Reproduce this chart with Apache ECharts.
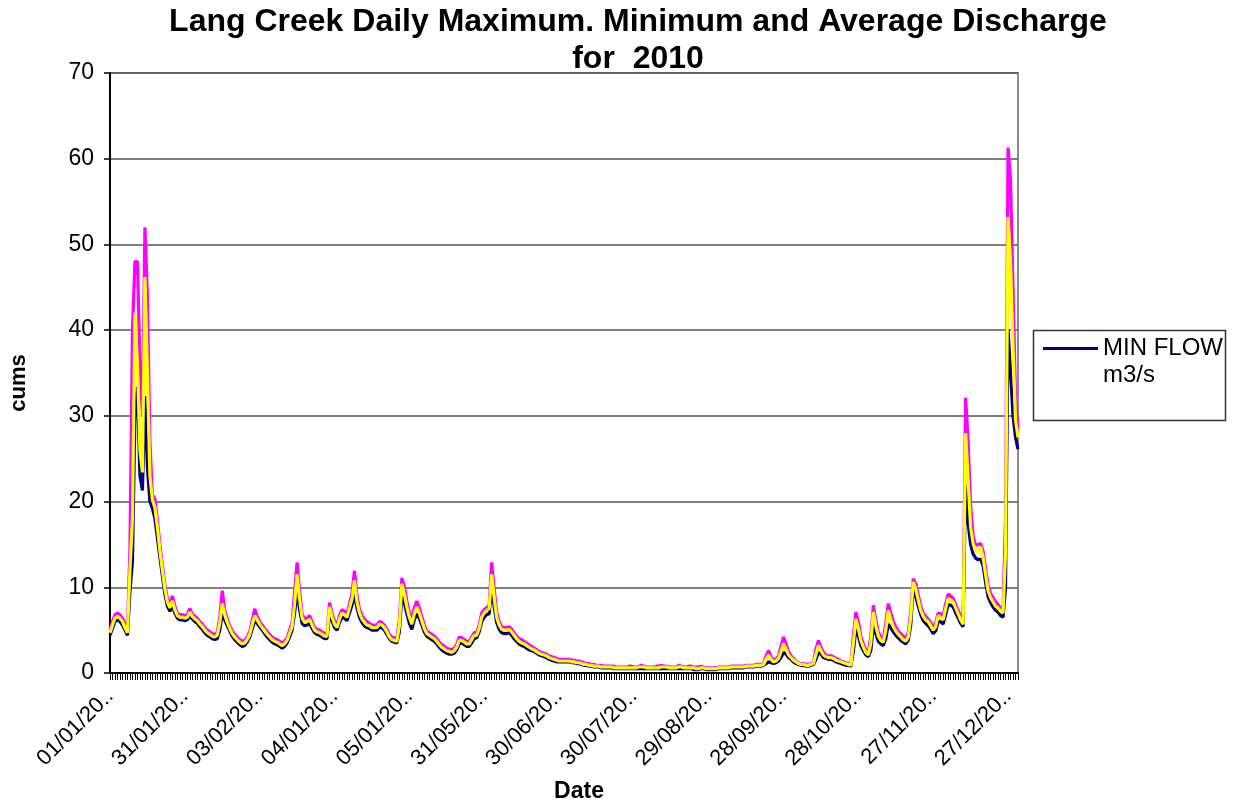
<!DOCTYPE html>
<html>
<head>
<meta charset="utf-8">
<title>Lang Creek Discharge 2010</title>
<script src="https://cdn.jsdelivr.net/npm/echarts@6/dist/echarts.min.js"></script>
<style>
  html, body { margin: 0; padding: 0; background: #fff; }
  #chart { width: 1238px; height: 808px; }
</style>
</head>
<body>
<div id="chart"></div>
<script>
// Tick labels shown every 30 days along the date axis
const tickLabels = ['01/01/20..', '31/01/20..', '03/02/20..', '04/01/20..', '05/01/20..',
  '31/05/20..', '30/06/20..', '30/07/20..', '29/08/20..', '28/09/20..', '28/10/20..',
  '27/11/20..', '27/12/20..'];

// Daily maximum discharge (m3/s), day 1..365
const maxFlow = [
  5.1, 6.0, 6.8, 7.0, 6.8, 6.4, 5.7, 5.0, 14.5, 40.0,
  48.0, 48.0, 36.0, 30.0, 52.0, 44.0, 27.0, 20.8, 20.3, 17.8,
  15.0, 12.6, 10.3, 8.7, 8.0, 9.0, 7.8, 7.0, 6.8, 6.8,
  6.7, 6.8, 7.5, 6.9, 6.6, 6.4, 6.0, 5.7, 5.3, 5.0,
  4.8, 4.6, 4.5, 4.7, 6.5, 9.6, 7.3, 6.3, 5.5, 4.9,
  4.5, 4.2, 3.9, 3.7, 3.8, 4.2, 4.8, 6.1, 7.5, 6.6,
  6.0, 5.6, 5.2, 4.8, 4.5, 4.2, 4.0, 3.9, 3.7, 3.5,
  3.7, 4.1, 5.0, 5.9, 9.5, 12.9, 9.6, 6.9, 6.3, 6.4,
  6.7, 6.0, 5.3, 5.1, 5.0, 4.8, 4.6, 4.6, 8.2, 7.0,
  6.1, 5.6, 6.7, 7.4, 7.2, 6.9, 8.1, 9.3, 11.9, 9.0,
  7.5, 6.7, 6.3, 6.0, 5.8, 5.6, 5.6, 5.6, 6.0, 5.9,
  5.6, 5.1, 4.5, 4.2, 4.1, 4.0, 6.2, 11.1, 10.1, 8.4,
  7.1, 6.2, 7.6, 8.4, 7.6, 6.6, 5.6, 4.9, 4.7, 4.5,
  4.3, 4.0, 3.6, 3.3, 3.1, 2.9, 2.8, 2.7, 2.9, 3.3,
  4.2, 4.1, 3.9, 3.7, 3.7, 4.2, 4.7, 4.7, 5.6, 7.0,
  7.4, 7.6, 7.9, 12.9, 9.8, 7.1, 6.0, 5.4, 5.3, 5.3,
  5.4, 5.1, 4.7, 4.3, 4.0, 3.9, 3.7, 3.5, 3.3, 3.1,
  2.9, 2.7, 2.5, 2.4, 2.3, 2.2, 2.0, 1.9, 1.8, 1.7,
  1.6, 1.6, 1.6, 1.6, 1.6, 1.5, 1.5, 1.4, 1.4, 1.3,
  1.2, 1.1, 1.1, 1.0, 1.0, 0.9, 0.9, 0.9, 0.8, 0.8,
  0.8, 0.8, 0.8, 0.7, 0.7, 0.7, 0.7, 0.7, 0.8, 0.8,
  0.7, 0.7, 0.8, 0.9, 0.8, 0.7, 0.7, 0.7, 0.7, 0.8,
  0.8, 0.9, 0.8, 0.8, 0.7, 0.7, 0.7, 0.7, 0.9, 0.8,
  0.7, 0.7, 0.8, 0.8, 0.7, 0.7, 0.7, 0.8, 0.7, 0.6,
  0.6, 0.6, 0.6, 0.6, 0.7, 0.7, 0.7, 0.7, 0.7, 0.8,
  0.8, 0.8, 0.8, 0.8, 0.8, 0.9, 0.9, 0.9, 0.9, 1.0,
  1.0, 1.0, 1.1, 2.0, 2.6, 1.9, 1.5, 1.6, 2.0, 3.1,
  4.2, 3.4, 2.5, 2.0, 1.7, 1.4, 1.2, 1.1, 1.1, 1.0,
  1.0, 1.1, 1.2, 2.8, 3.8, 3.0, 2.4, 2.1, 2.0, 2.0,
  1.9, 1.7, 1.6, 1.4, 1.3, 1.2, 1.1, 1.0, 4.4, 7.1,
  6.0, 4.3, 3.4, 2.7, 2.4, 4.3, 7.9, 6.2, 4.8, 4.2,
  4.0, 5.8, 8.1, 7.0, 6.0, 5.4, 4.9, 4.6, 4.3, 4.0,
  4.7, 7.2, 11.0, 10.4, 9.1, 7.8, 7.0, 6.6, 6.3, 5.9,
  5.3, 5.8, 7.0, 6.9, 6.6, 8.1, 9.2, 9.0, 8.7, 8.0,
  7.3, 6.6, 6.0, 32.1, 27.0, 19.5, 16.0, 14.9, 15.0, 15.1,
  14.2, 12.2, 10.2, 9.3, 8.8, 8.3, 8.0, 7.6, 7.4, 18.0,
  61.3, 57.5, 45.0, 32.0, 28.4
];

// Daily average discharge (m3/s)
const avgFlow = [
  4.7, 5.6, 6.4, 6.6, 6.4, 6.0, 5.3, 4.7, 12.0, 18.0,
  42.0, 36.0, 26.0, 23.4, 46.2, 35.0, 23.0, 20.2, 19.3, 17.0,
  14.3, 12.0, 9.8, 8.3, 7.6, 8.4, 7.4, 6.7, 6.5, 6.5,
  6.4, 6.5, 7.1, 6.6, 6.3, 6.1, 5.7, 5.4, 5.0, 4.7,
  4.5, 4.3, 4.2, 4.4, 5.8, 8.1, 6.8, 5.9, 5.2, 4.6,
  4.2, 3.9, 3.6, 3.4, 3.5, 3.9, 4.5, 5.6, 6.7, 6.2,
  5.7, 5.3, 4.9, 4.5, 4.2, 3.9, 3.7, 3.6, 3.4, 3.2,
  3.4, 3.8, 4.6, 5.4, 8.0, 11.5, 8.6, 6.4, 5.9, 6.0,
  6.3, 5.6, 5.0, 4.8, 4.7, 4.5, 4.3, 4.3, 7.7, 6.6,
  5.7, 5.3, 6.3, 7.0, 6.8, 6.5, 7.6, 8.6, 10.8, 8.3,
  7.0, 6.3, 5.9, 5.6, 5.5, 5.3, 5.3, 5.3, 5.7, 5.6,
  5.3, 4.8, 4.2, 3.9, 3.8, 3.7, 5.5, 10.4, 9.2, 7.7,
  6.5, 5.7, 6.9, 7.7, 7.0, 6.1, 5.2, 4.6, 4.4, 4.2,
  4.0, 3.7, 3.3, 3.0, 2.8, 2.6, 2.5, 2.4, 2.6, 3.0,
  3.8, 3.8, 3.6, 3.4, 3.4, 3.9, 4.4, 4.4, 5.2, 6.5,
  7.0, 7.3, 7.5, 11.5, 8.8, 6.5, 5.6, 5.1, 5.0, 5.0,
  5.1, 4.8, 4.4, 4.0, 3.7, 3.5, 3.4, 3.2, 3.0, 2.8,
  2.7, 2.5, 2.3, 2.2, 2.1, 2.0, 1.8, 1.7, 1.6, 1.5,
  1.4, 1.4, 1.4, 1.4, 1.4, 1.3, 1.3, 1.2, 1.2, 1.1,
  1.0, 1.0, 0.9, 0.9, 0.8, 0.8, 0.8, 0.7, 0.7, 0.7,
  0.7, 0.7, 0.6, 0.6, 0.6, 0.6, 0.6, 0.6, 0.6, 0.6,
  0.6, 0.6, 0.7, 0.7, 0.7, 0.6, 0.6, 0.6, 0.6, 0.6,
  0.6, 0.7, 0.7, 0.7, 0.6, 0.6, 0.6, 0.6, 0.7, 0.7,
  0.6, 0.6, 0.6, 0.6, 0.6, 0.5, 0.5, 0.6, 0.6, 0.5,
  0.5, 0.5, 0.5, 0.5, 0.6, 0.6, 0.6, 0.6, 0.6, 0.7,
  0.7, 0.7, 0.7, 0.7, 0.7, 0.8, 0.8, 0.8, 0.8, 0.9,
  0.9, 0.9, 1.0, 1.6, 2.1, 1.6, 1.3, 1.4, 1.7, 2.5,
  3.4, 2.8, 2.1, 1.8, 1.5, 1.3, 1.1, 1.0, 1.0, 0.9,
  0.9, 1.0, 1.1, 2.2, 3.2, 2.6, 2.1, 1.9, 1.8, 1.8,
  1.7, 1.5, 1.4, 1.3, 1.2, 1.1, 1.0, 0.9, 3.5, 6.3,
  5.2, 3.8, 3.0, 2.4, 2.1, 3.5, 7.1, 5.5, 4.3, 3.8,
  3.6, 5.0, 7.3, 6.2, 5.4, 4.9, 4.5, 4.2, 3.9, 3.7,
  4.2, 6.5, 10.6, 9.8, 8.5, 7.3, 6.6, 6.2, 6.0, 5.5,
  5.0, 5.4, 6.7, 6.5, 6.2, 7.5, 8.7, 8.5, 8.3, 7.6,
  6.9, 6.2, 5.7, 28.0, 22.5, 17.0, 15.1, 14.2, 14.3, 14.7,
  13.5, 11.5, 9.6, 8.8, 8.3, 7.8, 7.6, 7.2, 7.0, 14.0,
  53.2, 48.0, 38.0, 29.5, 27.5
];

// Daily minimum discharge (m3/s)
const minFlow = [
  4.4, 5.2, 6.0, 6.2, 6.0, 5.6, 5.0, 4.4, 9.5, 13.0,
  30.0, 33.4, 23.0, 21.3, 32.3, 24.0, 20.0, 19.2, 18.0, 15.8,
  13.5, 11.3, 9.2, 7.8, 7.2, 7.9, 7.0, 6.4, 6.2, 6.2,
  6.1, 6.2, 6.7, 6.3, 6.0, 5.8, 5.4, 5.1, 4.7, 4.4,
  4.2, 4.0, 3.9, 4.0, 5.0, 6.9, 6.2, 5.5, 4.9, 4.3,
  3.9, 3.6, 3.3, 3.1, 3.2, 3.6, 4.2, 5.1, 6.1, 5.8,
  5.4, 5.0, 4.6, 4.2, 3.9, 3.6, 3.4, 3.3, 3.1, 2.9,
  3.1, 3.5, 4.2, 5.0, 7.0, 9.6, 7.4, 5.8, 5.5, 5.6,
  5.8, 5.2, 4.7, 4.5, 4.4, 4.2, 4.0, 4.0, 6.9, 6.1,
  5.3, 5.0, 5.9, 6.5, 6.4, 6.1, 7.0, 7.9, 9.2, 7.6,
  6.5, 5.9, 5.5, 5.3, 5.2, 5.0, 5.0, 5.0, 5.3, 5.3,
  5.0, 4.5, 4.0, 3.7, 3.6, 3.5, 4.8, 9.0, 8.2, 6.9,
  5.8, 5.1, 6.2, 6.9, 6.4, 5.6, 4.8, 4.3, 4.1, 3.9,
  3.7, 3.4, 3.0, 2.7, 2.5, 2.3, 2.2, 2.2, 2.3, 2.7,
  3.4, 3.5, 3.3, 3.1, 3.1, 3.5, 4.0, 4.1, 4.8, 6.0,
  6.5, 6.8, 6.9, 9.8, 7.8, 5.9, 5.1, 4.7, 4.6, 4.6,
  4.7, 4.4, 4.0, 3.7, 3.4, 3.2, 3.1, 2.9, 2.7, 2.6,
  2.5, 2.3, 2.1, 2.0, 1.9, 1.8, 1.6, 1.5, 1.4, 1.3,
  1.3, 1.3, 1.3, 1.3, 1.3, 1.2, 1.2, 1.1, 1.1, 1.0,
  0.9, 0.9, 0.8, 0.8, 0.7, 0.7, 0.7, 0.6, 0.6, 0.6,
  0.6, 0.6, 0.5, 0.5, 0.5, 0.5, 0.5, 0.5, 0.5, 0.5,
  0.5, 0.5, 0.5, 0.5, 0.5, 0.5, 0.5, 0.5, 0.5, 0.5,
  0.5, 0.5, 0.5, 0.5, 0.5, 0.5, 0.5, 0.5, 0.5, 0.5,
  0.5, 0.5, 0.5, 0.5, 0.4, 0.4, 0.4, 0.5, 0.5, 0.4,
  0.4, 0.4, 0.4, 0.4, 0.5, 0.5, 0.5, 0.5, 0.5, 0.6,
  0.6, 0.6, 0.6, 0.6, 0.6, 0.7, 0.7, 0.7, 0.7, 0.8,
  0.8, 0.8, 0.9, 1.1, 1.3, 1.2, 1.1, 1.2, 1.4, 1.8,
  2.4, 2.2, 1.8, 1.6, 1.3, 1.1, 1.0, 0.9, 0.9, 0.8,
  0.8, 0.9, 1.0, 1.6, 2.4, 2.2, 1.8, 1.7, 1.6, 1.6,
  1.5, 1.3, 1.2, 1.1, 1.0, 0.9, 0.9, 0.8, 2.5, 5.1,
  4.4, 3.2, 2.6, 2.1, 1.9, 2.6, 5.5, 4.6, 3.7, 3.4,
  3.2, 4.0, 5.7, 5.3, 4.8, 4.4, 4.1, 3.8, 3.6, 3.4,
  3.8, 5.6, 9.9, 8.9, 7.8, 6.8, 6.1, 5.8, 5.5, 5.1,
  4.6, 4.9, 6.0, 6.0, 5.7, 6.8, 8.0, 7.9, 7.7, 7.0,
  6.4, 5.8, 5.4, 22.9, 17.5, 15.0, 13.9, 13.4, 13.2, 13.3,
  12.5, 10.6, 8.9, 8.2, 7.7, 7.3, 7.1, 6.7, 6.5, 10.0,
  40.1, 35.0, 30.0, 27.5, 26.1
];

// One category per day of the year
const days = minFlow.map((_, i) => String(i + 1));

const FONT = 'Liberation Sans, Arial, sans-serif';
const chart = echarts.init(document.getElementById('chart'), null, { renderer: 'canvas' });

chart.setOption({
  backgroundColor: '#ffffff',
  animation: false,
  title: {
    text: 'Lang Creek Daily Maximum. Minimum and Average Discharge\nfor  2010',
    left: 638,
    top: 4,
    padding: 0,
    textAlign: 'center',
    textStyle: { fontFamily: FONT, fontSize: 32, fontWeight: 'bold', color: '#000', lineHeight: 37 }
  },
  grid: {
    left: 107, right: 220, top: 73, bottom: 132,
    show: true, borderColor: '#8c8c8c', borderWidth: 2, backgroundColor: '#fff'
  },
  legend: {
    data: ['MIN FLOW m3/s'],
    left: 1043,
    top: 308,
    padding: 0,
    icon: 'rect',
    itemWidth: 55,
    itemHeight: 3,
    orient: 'vertical',
    // blank first line keeps the key line beside the first row of text
    formatter: name => ' \n' + name.replace(' m3/s', '\nm3/s'),
    textStyle: { fontFamily: FONT, fontSize: 24, color: '#000', lineHeight: 27 }
  },
  graphic: [{
    type: 'rect',
    z: -1,
    shape: { x: 1033.5, y: 330.5, width: 192, height: 90 },
    style: { fill: '#fff', stroke: '#333', lineWidth: 1.5 }
  }],
  xAxis: {
    type: 'category',
    data: days,
    boundaryGap: false,
    name: 'Date',
    nameLocation: 'middle',
    nameGap: 107,
    nameTextStyle: { fontFamily: FONT, fontSize: 23, fontWeight: 'bold', color: '#000', padding: [0, 0, 0, 30] },
    axisLine: { lineStyle: { color: '#000', width: 2 } },
    axisTick: { show: true, interval: 0, length: 7, lineStyle: { color: '#000', width: 1 } },
    axisLabel: {
      interval: 29,
      rotate: 45,
      margin: 20,
      fontFamily: FONT,
      fontSize: 22,
      color: '#000',
      formatter: (val, idx) => tickLabels[Math.round(idx / 30)] || ''
    },
    splitLine: { show: false }
  },
  yAxis: {
    type: 'value',
    min: 0,
    max: 70,
    interval: 10,
    name: 'cums',
    nameLocation: 'middle',
    nameRotate: 90,
    nameGap: 80,
    nameTextStyle: { fontFamily: FONT, fontSize: 22, fontWeight: 'bold', color: '#000', padding: [0, 20, 0, 0] },
    axisLine: { show: true, lineStyle: { color: '#000', width: 2 } },
    axisTick: { show: true, inside: false, length: 6, lineStyle: { color: '#000', width: 1.5 } },
    axisLabel: { fontFamily: FONT, fontSize: 23, color: '#000', margin: 16 },
    splitLine: { show: true, lineStyle: { color: '#555', width: 1.5 } }
  },
  series: [
    {
      name: 'MAX FLOW m3/s', type: 'line', data: maxFlow, symbol: 'none',
      lineStyle: { color: '#ff00ff', width: 3.2 }, itemStyle: { color: '#ff00ff' }, z: 2
    },
    {
      name: 'MIN FLOW m3/s', type: 'line', data: minFlow, symbol: 'none',
      lineStyle: { color: '#000080', width: 3.2 }, itemStyle: { color: '#000080' }, z: 3
    },
    {
      name: 'AVERAGE FLOW m3/s', type: 'line', data: avgFlow, symbol: 'none',
      lineStyle: { color: '#ffff00', width: 3.2 }, itemStyle: { color: '#ffff00' }, z: 4
    }
  ]
});
</script>
</body>
</html>
